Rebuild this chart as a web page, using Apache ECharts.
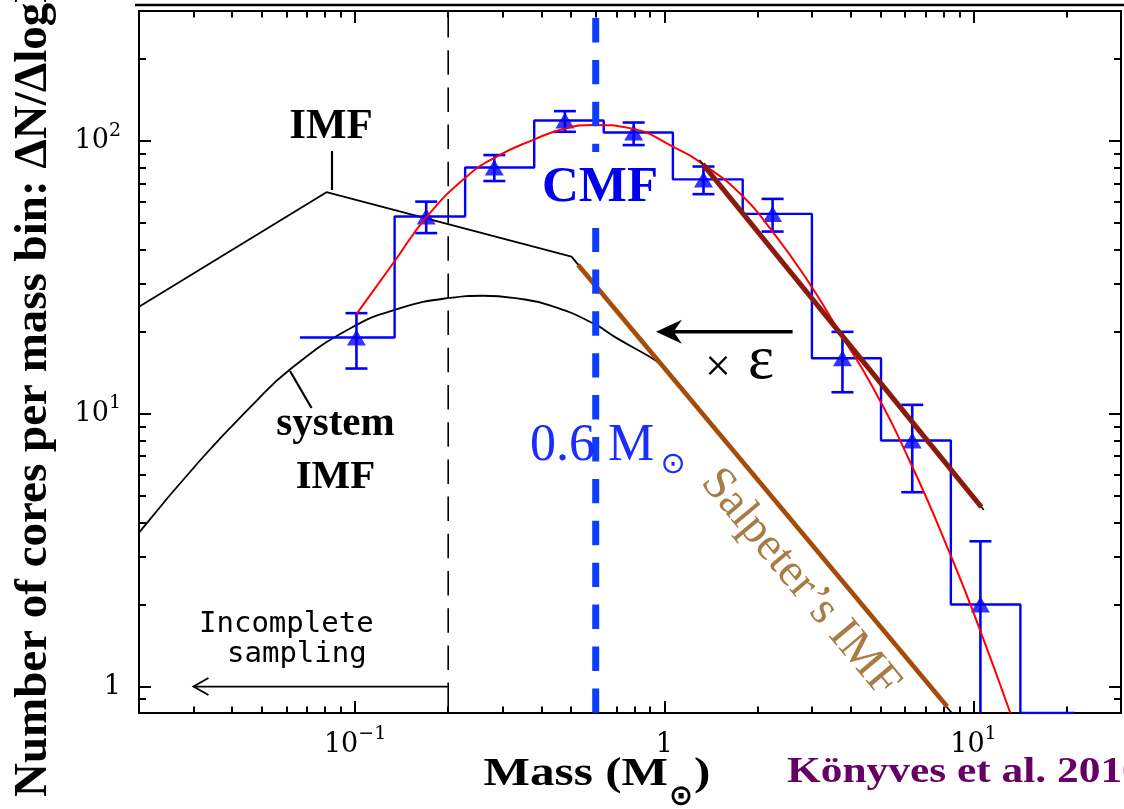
<!DOCTYPE html>
<html>
<head>
<meta charset="utf-8">
<script src="https://cdn.jsdelivr.net/npm/echarts@6/dist/echarts.min.js"></script>
<style>
  html, body { margin: 0; padding: 0; background: #fff; }
  #chart { width: 1124px; height: 809px; }
</style>
</head>
<body>
<div id="chart"></div>
<script>
// ---- axis ranges (log-log) ----
const X_MIN = 0.02, X_MAX = 30;
const Y_MIN = 0.8, Y_MAX = 300;

// ---- major tick labels ----
const xTickValues = [0.1, 1, 10];
const xTickLabels = ['{b|10}{sup|−1}', '{b|1}', '{b|10}{sup|1}'];
const yTickValues = [1, 10, 100];
const yTickLabels = ['{b|1}', '{b|10}{sup|1}', '{b|10}{sup|2}'];

// ---- core mass function: histogram bins (edges in M_sun, values ΔN/ΔlogM) ----
const binEdges  = [0.0663, 0.1342, 0.2269, 0.3796, 0.637, 1.066, 1.793, 3.002, 5.023, 8.449, 14.18, 21.2];
const binValues = [19.05, 52.9, 80.0, 119.0, 107.5, 72.4, 54.1, 16.0, 7.98, 2.0, 0];

// ---- data points with Poisson error bars ----
const pointMass  = [0.101, 0.1698, 0.282, 0.477, 0.796, 1.339, 2.240, 3.769, 6.338, 10.53];
const pointValue = [19.05, 52.9, 80.0, 119.0, 107.5, 72.4, 54.1, 16.0, 7.98, 2.0];
const errLow     = [14.66, 46.0, 71.4, 108.2, 96.7, 63.9, 46.6, 12.0, 5.16, 0.59];
const errHigh    = [23.4, 60.0, 88.9, 128.8, 117.0, 80.7, 61.4, 19.98, 10.79, 3.41];

// ---- lognormal fit to the CMF ----
const fitMass  = [0.101, 0.134, 0.1707, 0.2297, 0.2871, 0.3768, 0.471, 0.588, 0.773, 1.066, 1.366, 1.750, 2.240, 2.942, 3.678, 4.709, 6.338, 8.467, 10.40, 13.16];
const fitValue = [23.2, 36.2, 52.9, 74.2, 87.8, 101.1, 110.7, 114.7, 111.6, 95.5, 80.7, 64.5, 46.6, 30.2, 20.0, 12.6, 6.41, 3.00, 1.66, 0.80];

// ---- single-star IMF (broken power law) ----
const imfMass  = [0.02, 0.0808, 0.501, 8.51];
const imfValue = [24.7, 65.0, 37.7, 0.8];

// ---- system IMF (lognormal part, joining the power-law tail near 1 M_sun) ----
const sysMass  = [0.02, 0.0317, 0.0459, 0.0618, 0.0966, 0.140, 0.2019, 0.260, 0.334, 0.4266, 0.588, 0.702, 0.897, 0.966];
const sysValue = [3.67, 6.8, 10.6, 14.6, 20.6, 24.4, 26.6, 27.1, 26.5, 25.0, 21.5, 18.95, 16.2, 15.3];

// ---- Salpeter slope segments ----
const salpMass  = [0.526, 8.22];
const salpValue = [35.2, 0.845];
const shiftedMass  = [1.332, 10.61];
const shiftedValue = [82.3, 4.55];
const shiftedBaseMass  = [1.30, 10.8];
const shiftedBaseValue = [85.2, 4.44];

// ---- reference masses ----
const completenessMass = 0.2;
const peakMass = 0.6;

// ---- arrows: [fromMass, fromValue, toMass, toValue] ----
const epsArrow = [[2.6, 20, 0.94, 20]];
const incompleteArrow = [[0.2, 1, 0.03, 1]];

const pairs = (xs, ys) => xs.map((x, i) => [x, ys[i]]);
const floorValue = v => (v > 0 ? v : Y_MIN);   // empty bins are drawn on the axis floor

const histData = binEdges.map((e, i) => [e, floorValue(binValues[Math.min(i, binValues.length - 1)])]);

function tickFormatter(values, labels) {
  return v => {
    const i = values.findIndex(t => Math.abs(Math.log10(t) - Math.log10(v)) < 1e-6);
    return i >= 0 ? labels[i] : '';
  };
}

const labelRich = {
  b:   { fontFamily: 'DejaVu Serif', fontSize: 27, lineHeight: 40, color: '#000' },
  sup: { fontFamily: 'DejaVu Serif', fontSize: 19, lineHeight: 19, color: '#000', verticalAlign: 'top' }
};

function logAxis(opts) {
  return Object.assign({
    type: 'log', logBase: 10,
    axisLine: { show: true, lineStyle: { color: '#000', width: 2 } },
    axisTick: { show: true, inside: true, length: 12, lineStyle: { color: '#000', width: 2 } },
    minorTick: { show: true, splitNumber: 9, length: 6.5, lineStyle: { color: '#000', width: 2 } },
    splitLine: { show: false },
    minorSplitLine: { show: false }
  }, opts);
}

const BLUE = '#0000ff';

function renderErrorBar(params, api) {
  const m = api.value(0), lo = api.value(1), hi = api.value(2);
  const pHi = api.coord([m, hi]);
  const clipped = lo < Y_MIN;
  const pLo = api.coord([m, clipped ? Y_MIN : lo]);
  const hw = 11;
  const st = { stroke: BLUE, lineWidth: 2.6 };
  const children = [
    { type: 'line', shape: { x1: pHi[0], y1: pHi[1], x2: pLo[0], y2: pLo[1] }, style: st },
    { type: 'line', shape: { x1: pHi[0] - hw, y1: pHi[1], x2: pHi[0] + hw, y2: pHi[1] }, style: st }
  ];
  if (!clipped) {
    children.push({ type: 'line', shape: { x1: pLo[0] - hw, y1: pLo[1], x2: pLo[0] + hw, y2: pLo[1] }, style: st });
  }
  return { type: 'group', children };
}

function renderDartArrow(params, api) {
  const a = api.coord([api.value(0), api.value(1)]);
  const b = api.coord([api.value(2), api.value(3)]);
  const L = 26, W = 12;
  return {
    type: 'group',
    children: [
      { type: 'line', shape: { x1: a[0], y1: a[1], x2: b[0] + L * 0.6, y2: b[1] }, style: { stroke: '#000', lineWidth: 3.6 } },
      { type: 'polygon', shape: { points: [[b[0], b[1]], [b[0] + L, b[1] - W], [b[0] + L * 0.68, b[1]], [b[0] + L, b[1] + W]] }, style: { fill: '#000' } }
    ]
  };
}

function renderOpenArrow(params, api) {
  const a = api.coord([api.value(0), api.value(1)]);
  const b = api.coord([api.value(2), api.value(3)]);
  const st = { stroke: '#000', lineWidth: 1.8, fill: 'none' };
  return {
    type: 'group',
    children: [
      { type: 'line', shape: { x1: a[0], y1: a[1], x2: b[0], y2: b[1] }, style: st },
      { type: 'polyline', shape: { points: [[b[0] + 15, b[1] - 8.5], [b[0], b[1]], [b[0] + 15, b[1] + 8.5]] }, style: st }
    ]
  };
}

const chart = echarts.init(document.getElementById('chart'), null, { renderer: 'canvas' });

const option = {
  animation: false,
  backgroundColor: '#fff',
  grid: { left: 139, right: 1, top: 11, bottom: 96, containLabel: false },
  xAxis: [
    logAxis({
      min: X_MIN, max: X_MAX, position: 'bottom',
      axisLabel: { show: true, margin: 12, formatter: tickFormatter(xTickValues, xTickLabels), rich: labelRich }
    }),
    logAxis({ min: X_MIN, max: X_MAX, position: 'top', axisLabel: { show: false } })
  ],
  yAxis: [
    logAxis({
      min: Y_MIN, max: Y_MAX, position: 'left',
      minorTick: { show: true, splitNumber: 9, length: 7, lineStyle: { color: '#000', width: 2 } },
      axisLabel: { show: true, margin: 18, formatter: tickFormatter(yTickValues, yTickLabels), rich: labelRich }
    }),
    logAxis({
      min: Y_MIN, max: Y_MAX, position: 'right',
      minorTick: { show: true, splitNumber: 9, length: 7, lineStyle: { color: '#000', width: 2 } },
      axisLabel: { show: false }
    })
  ],
  series: [
    { // completeness limit
      type: 'line', z: 2, symbol: 'none', silent: true,
      data: [[completenessMass, Y_MAX], [completenessMass, Y_MIN]],
      lineStyle: { color: '#000', width: 1.6, type: [24.5, 12.7], dashOffset: 35.2 }
    },
    { // system IMF
      type: 'line', z: 3, symbol: 'none', smooth: 0.5,
      data: pairs(sysMass, sysValue),
      lineStyle: { color: '#000', width: 1.8 }
    },
    { // single-star IMF
      type: 'line', z: 3, symbol: 'none',
      data: pairs(imfMass, imfValue),
      lineStyle: { color: '#000', width: 1.8 }
    },
    { // CMF histogram
      type: 'line', z: 3, step: 'end', symbol: 'none',
      data: histData,
      lineStyle: { color: BLUE, width: 2.4 }
    },
    { // error bars
      type: 'custom', z: 4, coordinateSystem: 'cartesian2d',
      encode: { x: 0, y: [1, 2] },
      data: pointMass.map((m, i) => [m, errLow[i], errHigh[i]]),
      renderItem: renderErrorBar
    },
    { // data points
      type: 'scatter', z: 4, symbol: 'triangle', symbolSize: [19, 16],
      data: pairs(pointMass, pointValue),
      itemStyle: { color: BLUE }
    },
    { // lognormal fit
      type: 'line', z: 5, symbol: 'none', smooth: 0.5,
      data: pairs(fitMass, fitValue),
      lineStyle: { color: '#ff0000', width: 2 }
    },
    { // Salpeter IMF
      type: 'line', z: 6, symbol: 'none',
      data: pairs(salpMass, salpValue),
      lineStyle: { color: '#a64b08', width: 4.6 }
    },
    { // shifted Salpeter slope (thin base line)
      type: 'line', z: 6, symbol: 'none',
      data: pairs(shiftedBaseMass, shiftedBaseValue),
      lineStyle: { color: '#000', width: 1.6 }
    },
    { // shifted Salpeter slope
      type: 'line', z: 7, symbol: 'none',
      data: pairs(shiftedMass, shiftedValue),
      lineStyle: { color: '#8b1a0c', width: 5 }
    },
    { // CMF peak
      type: 'line', z: 8, symbol: 'none', silent: true,
      data: [[peakMass, Y_MAX], [peakMass, Y_MIN]],
      lineStyle: { color: '#0d3dff', width: 7, type: [24.4, 17.5], dashOffset: 34.9 }
    },
    { // × ε arrow
      type: 'custom', z: 8, coordinateSystem: 'cartesian2d',
      encode: { x: [0, 2], y: [1, 3] },
      data: epsArrow, renderItem: renderDartArrow
    },
    { // incomplete sampling arrow
      type: 'custom', z: 8, coordinateSystem: 'cartesian2d',
      encode: { x: [0, 2], y: [1, 3] },
      data: incompleteArrow, renderItem: renderOpenArrow
    }
  ],
  graphic: [
    // upper frame edge
    { type: 'line', z: 1, shape: { x1: 135, y1: 5, x2: 1124, y2: 5 }, style: { stroke: '#000', lineWidth: 2.5 } },
    // y-axis title
    { type: 'text', z: 20, x: 34, y: 797, rotation: Math.PI / 2,
      style: { text: 'Number of cores per mass bin: ΔN/ΔlogM', font: 'bold 47px "Liberation Serif"', fill: '#000', textAlign: 'left', textVerticalAlign: 'middle' } },
    // x-axis title
    { type: 'text', z: 20, x: 668, y: 774, scaleX: 1.2,
      style: { text: 'Mass (M', font: 'bold 41px "Liberation Serif"', fill: '#000', textAlign: 'right', textVerticalAlign: 'middle' } },
    { type: 'text', z: 20, x: 681, y: 797,
      style: { text: '⊙', font: 'bold 29px "DejaVu Sans"', fill: '#000', textAlign: 'center', textVerticalAlign: 'middle' } },
    { type: 'text', z: 20, x: 694, y: 774, scaleX: 1.2,
      style: { text: ')', font: 'bold 41px "Liberation Serif"', fill: '#000', textAlign: 'left', textVerticalAlign: 'middle' } },
    // reference
    { type: 'text', z: 20, x: 787, y: 773, scaleX: 1.24,
      style: { text: 'Könyves et al. 2010', font: 'bold 35px "Liberation Serif"', fill: '#660066', textAlign: 'left', textVerticalAlign: 'middle' } },
    // IMF label and leader
    { type: 'text', z: 20, x: 331, y: 127,
      style: { text: 'IMF', font: 'bold 43px "Liberation Serif"', fill: '#000', textAlign: 'center', textVerticalAlign: 'middle' } },
    { type: 'line', z: 20, shape: { x1: 332, y1: 151, x2: 332, y2: 190 }, style: { stroke: '#000', lineWidth: 2.2 } },
    // system IMF label and leader
    { type: 'text', z: 20, x: 335.5, y: 424,
      style: { text: 'system', font: 'bold 41px "Liberation Serif"', fill: '#000', textAlign: 'center', textVerticalAlign: 'middle' } },
    { type: 'text', z: 20, x: 335.5, y: 477,
      style: { text: 'IMF', font: 'bold 41px "Liberation Serif"', fill: '#000', textAlign: 'center', textVerticalAlign: 'middle' } },
    { type: 'line', z: 20, shape: { x1: 290, y1: 371, x2: 311.5, y2: 408 }, style: { stroke: '#000', lineWidth: 2.2 } },
    // CMF label on a white patch
    { type: 'rect', z: 19, shape: { x: 546, y: 152, width: 110, height: 76 }, style: { fill: '#fff' } },
    { type: 'text', z: 20, x: 600, y: 188,
      style: { text: 'CMF', font: 'bold 51px "Liberation Serif"', fill: '#0000ee', textAlign: 'center', textVerticalAlign: 'middle' } },
    // 0.6 M_sun label
    { type: 'text', z: 20, x: 530, y: 446,
      style: { text: '0.6 M', font: '52px "Liberation Serif"', fill: '#1a2cff', textAlign: 'left', textVerticalAlign: 'middle' } },
    { type: 'text', z: 20, x: 673, y: 465,
      style: { text: '⊙', font: '30px "DejaVu Sans"', fill: '#1a2cff', textAlign: 'center', textVerticalAlign: 'middle' } },
    // × ε label
    { type: 'text', z: 20, x: 718, y: 369,
      style: { text: '×', font: '46px "Liberation Serif"', fill: '#000', textAlign: 'center', textVerticalAlign: 'middle' } },
    { type: 'text', z: 20, x: 761, y: 362,
      style: { text: 'ε', font: '62px "Liberation Serif"', fill: '#000', textAlign: 'center', textVerticalAlign: 'middle' } },
    // Salpeter label along its line
    { type: 'text', z: 20, x: 800, y: 583, rotation: -0.874,
      style: { text: 'Salpeter’s IMF', font: '47px "Liberation Serif"', fill: '#a97b45', textAlign: 'center', textVerticalAlign: 'middle' } },
    // incomplete sampling note
    { type: 'text', z: 20, x: 199, y: 624,
      style: { text: 'Incomplete', font: '29px "DejaVu Sans Mono"', fill: '#000', textAlign: 'left', textVerticalAlign: 'middle' } },
    { type: 'text', z: 20, x: 227, y: 654,
      style: { text: 'sampling', font: '29px "DejaVu Sans Mono"', fill: '#000', textAlign: 'left', textVerticalAlign: 'middle' } }
  ]
};

chart.setOption(option);
</script>
</body>
</html>
